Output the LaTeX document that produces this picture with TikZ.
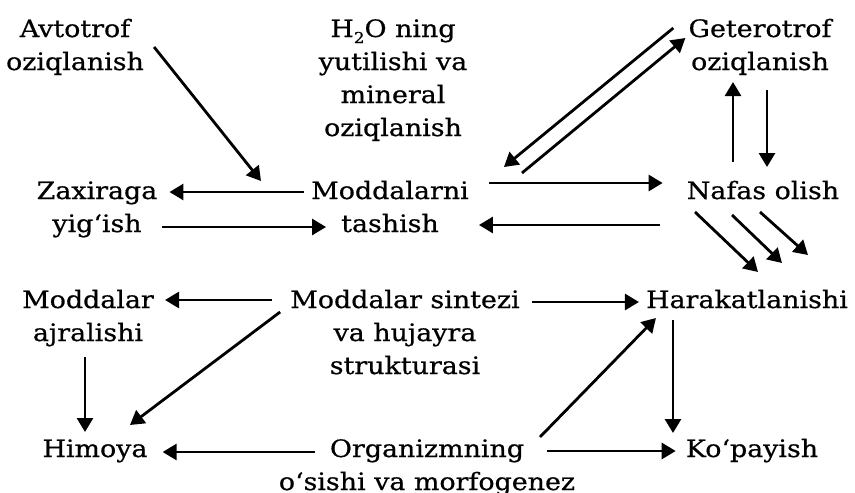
\documentclass[tikz,border=0pt]{standalone}
\usepackage{fontspec}
\setmainfont{DejaVu Serif}[FakeStretch=1.12,FakeBold=0.6]
\usetikzlibrary{arrows.meta}

\begin{document}
\begin{tikzpicture}[x=1pt,y=-1pt,
    bloque/.style={align=center,anchor=base,inner sep=0pt,font=\fontsize{24}{33}\selectfont},
    flecha/.style={line width=2.8pt,-{Triangle[length=14pt,width=16pt]}}]
                \useasboundingbox (0,0) rectangle (855,493); % marco
                % bloques (anclados en la base de la ultima linea)
                \node[bloque] (avto) at (75,70) {Avtotrof\\oziqlanish};
                \node[bloque] (suv) at (393,136) {H\raisebox{-6pt}{\fontsize{15}{15}\selectfont 2}O ning\\yutilishi va\\mineral\\oziqlanish};
                \node[bloque] (getero) at (760,70) {Geterotrof\\oziqlanish};
                \node[bloque] (zax) at (97,232) {Zaxiraga\\yig‘ish};
                \node[bloque] (tash) at (390,232) {Moddalarni\\tashish};
                \node[bloque] (nafas) at (763,199) {Nafas olish};
                \node[bloque] (ajral) at (88,341) {Moddalar\\ajralishi};
                \node[bloque] (sint) at (405,374) {Moddalar sintezi\\va hujayra\\strukturasi};
                \node[bloque] (harak) at (747,308) {Harakatlanishi};
                \node[bloque] (himoya) at (95,457) {Himoya};
                \node[bloque] (organ) at (427,490) {Organizmning\\o‘sishi va morfogenez};
                \node[bloque] (kopay) at (752,457) {Ko‘payish};
                \coordinate (punta) at (261,181); % sobre la flecha de zaxira
                % flechas
                \draw[flecha] ([shift={(10,-23)}]avto.base east) -- (punta);
                \draw[flecha] ([shift={(-7,-40)}]tash.base west) -- ([shift={(12,-40)}]zax.base east);
                \draw[flecha] ([shift={(5,-5)}]zax.base east) -- ([shift={(15,-5)}]tash.base west);
                \draw[flecha] ([shift={(20,-49)}]tash.base east) -- ([shift={(-24,-16)}]nafas.base west);
                \draw[flecha] ([shift={(-27,26)}]nafas.base west) -- ([shift={(10,-7)}]tash.base east);
                \draw[flecha] ([shift={(-15,-42)}]getero.base west) -- ([shift={(35,-65)}]tash.base east);
                \draw[flecha] ([shift={(53,-59)}]tash.base east) -- ([shift={(-3,-32)}]getero.base west);
                \draw[flecha] ([shift={(-30,-37)}]nafas.base) -- ([shift={(-27,12)}]getero.base);
                \draw[flecha] ([shift={(7,20)}]getero.base) -- ([shift={(4,-32)}]nafas.base);
                \foreach \a/\b/\c/\d in {-68/13/11/-36, -31/16/35/-45, -3/13/61/-53}
                \draw[flecha] ([shift={(\a,\b)}]nafas.base) -- ([shift={(\c,\d)}]harak.base);
                \draw[flecha] ([shift={(-18,-74)}]sint.base west) -- ([shift={(11,-41)}]ajral.base east);
                \draw[flecha] ([shift={(12,-72)}]sint.base east) -- ([shift={(-7,-6)}]harak.base west);
                \draw[flecha] ([shift={(-10,-62)}]sint.base west) -- ([shift={(35,-32)}]himoya.base);
                \draw[flecha] ([shift={(-3,16)}]ajral.base) -- ([shift={(-10,-25)}]himoya.base);
                \draw[flecha] ([shift={(-112,-38)}]organ.base) -- ([shift={(15,-5)}]himoya.base east);
                \draw[flecha] ([shift={(113,-53)}]organ.base) -- ([shift={(10,10)}]harak.base west);
                \draw[flecha] ([shift={(120,-39)}]organ.base) -- ([shift={(-10,-6)}]kopay.base west);
                \draw[flecha] ([shift={(-74,12)}]harak.base) -- ([shift={(-79,-24)}]kopay.base);
\end{tikzpicture}
\end{document}
